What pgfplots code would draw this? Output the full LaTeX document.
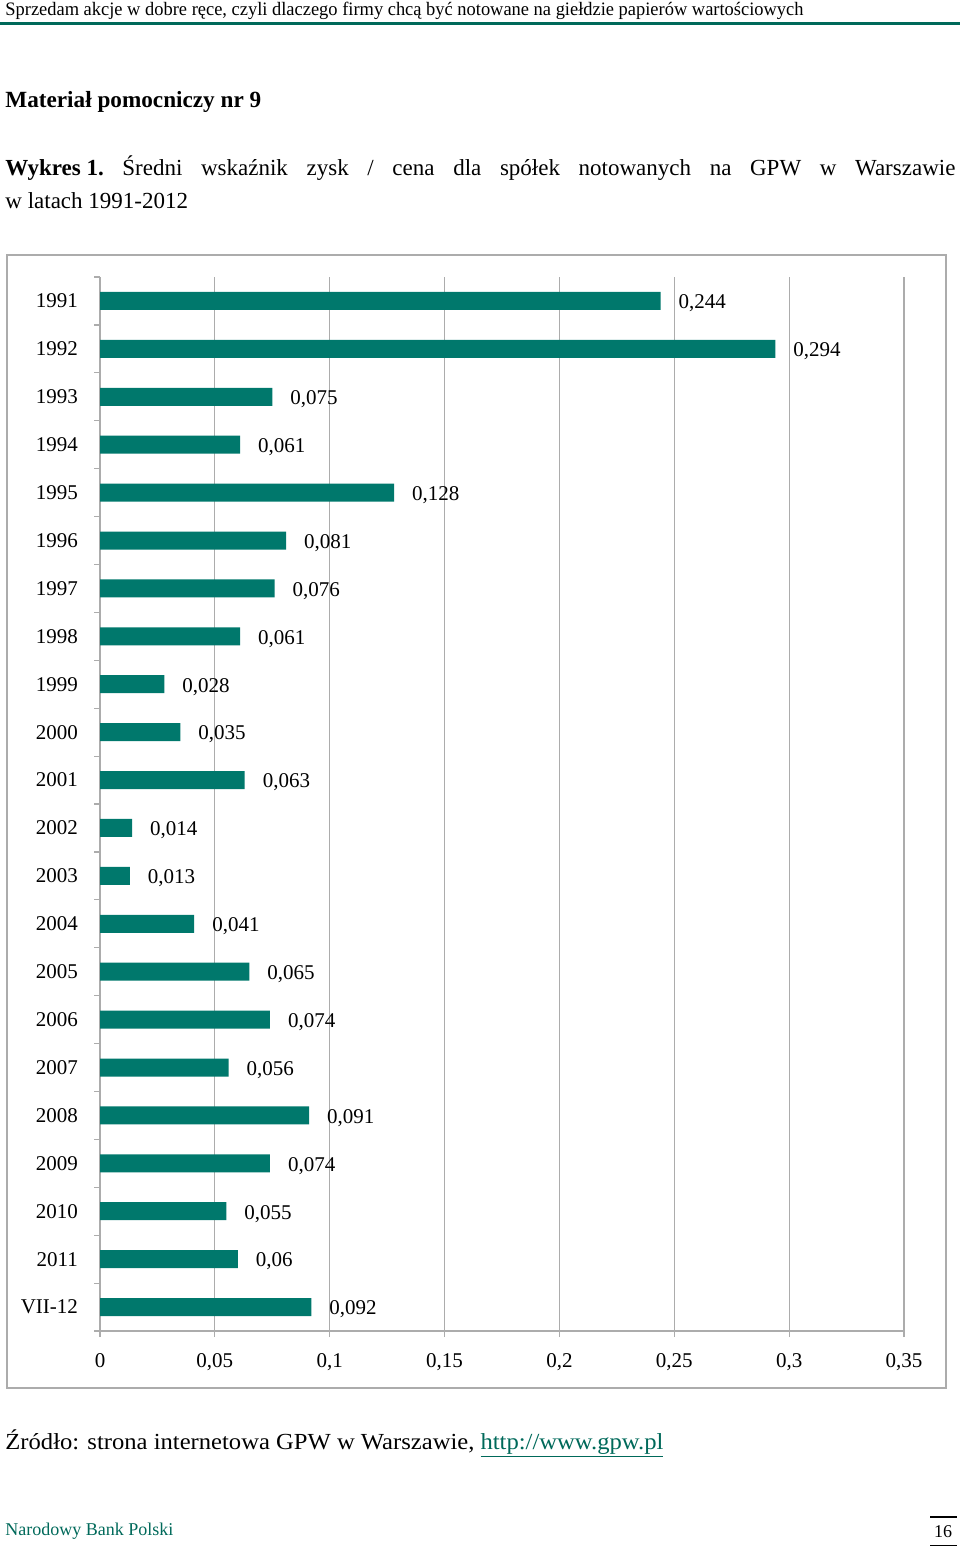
\documentclass[border=0pt]{standalone}
\usepackage{pgfplots}
\pgfplotsset{compat=1.18}
\usepackage{fontspec}
\setmainfont{Liberation Serif}
\usepackage{graphicx}
\definecolor{barteal}{RGB}{0,120,108}
\definecolor{hdrteal}{RGB}{0,105,90}
\definecolor{gridgray}{RGB}{172,172,172}
\begin{document}
\begin{tikzpicture}
\path[use as bounding box] (0,0) rectangle (480pt,-773.5pt);
% header
\node[anchor=base west, inner sep=0] at (2.5pt,-8pt) {\resizebox{399pt}{\height}{\fontsize{9.5}{11}\selectfont Sprzedam akcje w dobre ręce, czyli dlaczego firmy chcą być notowane na giełdzie papierów wartościowych}};
\fill[hdrteal] (0,-10.8pt) rectangle (480pt,-12.3pt);
% titles
\node[anchor=base west, inner sep=0] at (2.5pt,-53.5pt) {\fontsize{11.6}{13}\selectfont\bfseries Materiał pomocniczy nr 9};
\node[anchor=base west, inner sep=0] at (2.5pt,-87.5pt) {\fontsize{11.5}{13}\selectfont\makebox[475pt][s]{\textbf{\mbox{Wykres 1.}} Średni wskaźnik zysk / cena dla spółek notowanych na GPW w Warszawie}};
\node[anchor=base west, inner sep=0] at (2.5pt,-104pt) {\fontsize{11.5}{13}\selectfont w latach 1991-2012};
% chart frame
\draw[gridgray, line width=0.8pt] (3.5pt,-127.5pt) rectangle (473pt,-694pt);
\begin{axis}[
  at={(50pt,-665.5pt)}, anchor=south west,
  scale only axis, width=402pt, height=527pt,
  xmin=0, xmax=0.35, ymin=-0.5, ymax=21.5,
  xbar, bar width=9pt,
  axis x line*=bottom, axis y line*=left,
  axis line style={gridgray, line width=0.6pt},
  xtick={0,0.05,0.1,0.15,0.2,0.25,0.3,0.35},
  xmajorgrids, grid style={gridgray, line width=0.6pt},
  tick align=outside, tick style={gridgray, line width=0.6pt},
  major tick length=3pt,
  ytick={0,1,...,21},
  yticklabels={VII-12,2011,2010,2009,2008,2007,2006,2005,2004,2003,2002,2001,2000,1999,1998,1997,1996,1995,1994,1993,1992,1991},
  major y tick style={draw=none},
  minor ytick={-0.5,0.5,...,21.5},
  minor tick length=3pt,
  /pgf/number format/.cd, use comma, fixed, precision=3, 1000 sep={}, assume math mode=true,
  /pgfplots/.cd,
  tick label style={font=\fontsize{10.5}{12}\selectfont, text=black},
  yticklabel style={xshift=-4.5pt},
  xticklabel style={yshift=-4.5pt},
  nodes near coords,
  nodes near coords style={font=\fontsize{10.5}{12}\selectfont, text=black, anchor=west, xshift=5.5pt, yshift=-1.2pt},
  clip=false,
]
\addplot[fill=barteal, draw=none] coordinates {
(0.244,21) (0.294,20) (0.075,19) (0.061,18) (0.128,17) (0.081,16) (0.076,15) (0.061,14) (0.028,13) (0.035,12) (0.063,11)
(0.014,10) (0.013,9) (0.041,8) (0.065,7) (0.074,6) (0.056,5) (0.091,4) (0.074,3) (0.055,2) (0.06,1) (0.092,0)
};
\end{axis}
% source
\node[anchor=base west, inner sep=0] at (2.5pt,-724.5pt) {\resizebox{329pt}{\height}{\fontsize{11.5}{13}\selectfont Źródło: strona internetowa GPW w Warszawie, \textcolor{hdrteal}{\underline{http://www.gpw.pl}}}};
% footer
\node[anchor=base west, inner sep=0, text=hdrteal] at (2.5pt,-767.5pt) {\fontsize{9}{11}\selectfont Narodowy Bank Polski};
\node[anchor=base, inner sep=0] at (471.5pt,-768.5pt) {\fontsize{9}{11}\selectfont 16};
\draw[line width=0.6pt] (465pt,-758.5pt) -- (478.5pt,-758.5pt);
\draw[line width=0.6pt] (465pt,-772.8pt) -- (478.5pt,-772.8pt);
\end{tikzpicture}
\end{document}
